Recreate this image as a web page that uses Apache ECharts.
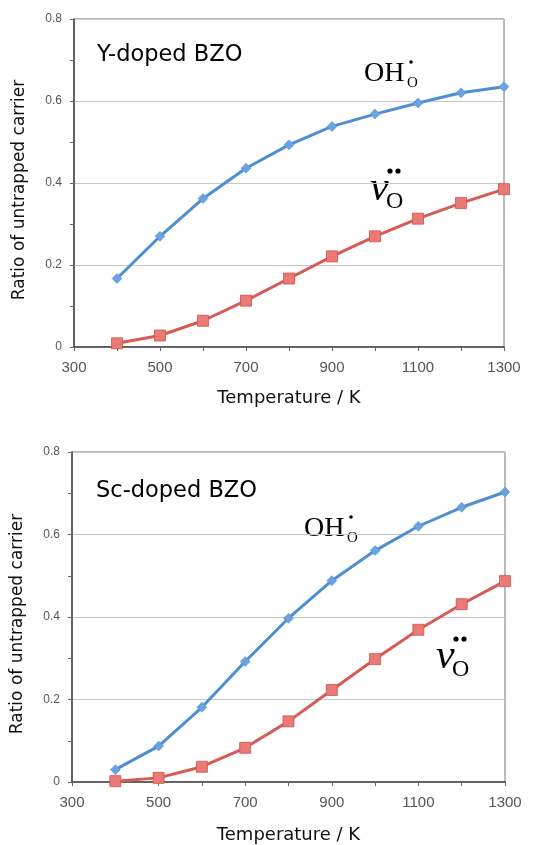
<!DOCTYPE html>
<html>
<head>
<meta charset="utf-8">
<script src="https://cdn.jsdelivr.net/npm/echarts@6/dist/echarts.min.js"></script>
<style>
  html, body { margin: 0; padding: 0; background: #fff; }
  #chart { width: 533px; height: 845px; }
</style>
</head>
<body>
<div id="chart"></div>
<script>
const temperatures = [400, 500, 600, 700, 800, 900, 1000, 1100, 1200, 1300];
const yDopedOH = [0.167, 0.270, 0.362, 0.436, 0.493, 0.538, 0.568, 0.595, 0.620, 0.635];
const yDopedVO = [0.009, 0.028, 0.064, 0.113, 0.167, 0.221, 0.270, 0.313, 0.351, 0.385];
const scDopedOH = [0.030, 0.087, 0.181, 0.292, 0.397, 0.488, 0.561, 0.620, 0.666, 0.703];
const scDopedVO = [0.002, 0.010, 0.037, 0.083, 0.147, 0.223, 0.298, 0.369, 0.431, 0.487];
const panelTitles = ['Y-doped BZO', 'Sc-doped BZO'];

const blue = '#4e8fd3';
const red = '#d85a55';
const pairs = (ys) => temperatures.map((t, i) => [t, ys[i]]);

const chart = echarts.init(document.getElementById('chart'));

const xAxisBase = (idx, gap) => ({
    type: 'value',
    gridIndex: idx,
    min: 300,
    max: 1300,
    interval: 200,
    name: 'Temperature / K',
    nameLocation: 'middle',
    nameGap: gap,
    nameTextStyle: { fontSize: 18, color: '#111', fontFamily: 'DejaVu Sans' },
    axisLine: { lineStyle: { color: '#444', width: 1.5 } },
    axisTick: { show: true, inside: false, length: 4, lineStyle: { color: '#666' } },
    minorTick: { show: true, splitNumber: 2, length: 4, lineStyle: { color: '#666' } },
    axisLabel: {
        fontSize: 15, color: '#555', margin: 13, fontFamily: 'Liberation Sans',
        formatter: (v) => String(v)
    },
    splitLine: { show: false }
});

const yAxisBase = (idx) => ({
    type: 'value',
    gridIndex: idx,
    min: 0,
    max: 0.8,
    interval: 0.2,
    name: 'Ratio of untrapped carrier',
    nameLocation: 'middle',
    nameGap: 46,
    nameTextStyle: { fontSize: 17, color: '#111', fontFamily: 'DejaVu Sans', padding: [0, 0, 0, -14] },
    axisLine: { show: true, lineStyle: { color: '#444', width: 1.5 } },
    axisTick: { show: true, length: 4, lineStyle: { color: '#666' } },
    minorTick: { show: true, splitNumber: 2, length: 4, lineStyle: { color: '#666' } },
    axisLabel: {
        fontSize: 12, color: '#555', margin: 12, fontFamily: 'Liberation Sans',
        formatter: (v) => (v === 0 ? '0' : v.toFixed(1))
    },
    splitLine: { show: true, lineStyle: { color: '#c8c8c8', width: 1 } }
});

const ohSeries = (idx, data) => ({
    type: 'line',
    xAxisIndex: idx,
    yAxisIndex: idx,
    data: pairs(data),
    symbol: 'diamond',
    symbolSize: 10,
    lineStyle: { color: blue, width: 3 },
    itemStyle: { color: '#6aa3e0', borderColor: blue, borderWidth: 0.5 },
    z: 3
});

const voSeries = (idx, data) => ({
    type: 'line',
    xAxisIndex: idx,
    yAxisIndex: idx,
    data: pairs(data),
    symbol: 'rect',
    symbolSize: 11,
    lineStyle: { color: red, width: 3 },
    itemStyle: { color: '#ea7a75', borderColor: '#d0504b', borderWidth: 0.8 },
    z: 3
});

// chemical-species labels (Kröger–Vink style) drawn as text
const ohLabel = (x, y) => ({
    type: 'group', left: x, top: y,
    children: [
        { type: 'text', x: 0, y: 0, style: { text: 'OH', font: '28px "Liberation Serif"', fill: '#000' } },
        { type: 'text', x: 43, y: 16, style: { text: 'O', font: '15px "Liberation Serif"', fill: '#000' } },
        { type: 'circle', shape: { cx: 47, cy: 2, r: 1.8 }, style: { fill: '#000' } }
    ]
});

const vLabel = (x, y) => ({
    type: 'group', left: x, top: y,
    children: [
        { type: 'text', x: 0, y: 0, style: { text: 'v', font: 'italic 42px "Liberation Serif"', fill: '#000' } },
        { type: 'text', x: 16, y: 22, style: { text: 'O', font: '24px "Liberation Serif"', fill: '#000' } },
        { type: 'circle', shape: { cx: 20, cy: 3, r: 2.6 }, style: { fill: '#000' } },
        { type: 'circle', shape: { cx: 28, cy: 3, r: 2.6 }, style: { fill: '#000' } }
    ]
});

const option = {
    animation: false,
    backgroundColor: '#fff',
    grid: [
        { left: 74, top: 19, width: 430, height: 328, show: true, borderColor: '#777', borderWidth: 1 },
        { left: 72, top: 452, width: 433, height: 330, show: true, borderColor: '#777', borderWidth: 1 }
    ],
    xAxis: [xAxisBase(0, 42), xAxisBase(1, 44)],
    yAxis: [yAxisBase(0), yAxisBase(1)],
    series: [
        ohSeries(0, yDopedOH), voSeries(0, yDopedVO),
        ohSeries(1, scDopedOH), voSeries(1, scDopedVO)
    ],
    graphic: [
        { type: 'text', left: 97, top: 44, style: { text: panelTitles[0], font: '22.5px "DejaVu Sans"', fill: '#000' } },
        { type: 'text', left: 96, top: 480, style: { text: panelTitles[1], font: '22.5px "DejaVu Sans"', fill: '#000' } },
        ohLabel(364, 60),
        vLabel(370, 168),
        ohLabel(304, 515),
        vLabel(436, 636)
    ]
};

chart.setOption(option);

window.addEventListener('resize', function () {
    chart.resize();
});
</script>
</body>
</html>
